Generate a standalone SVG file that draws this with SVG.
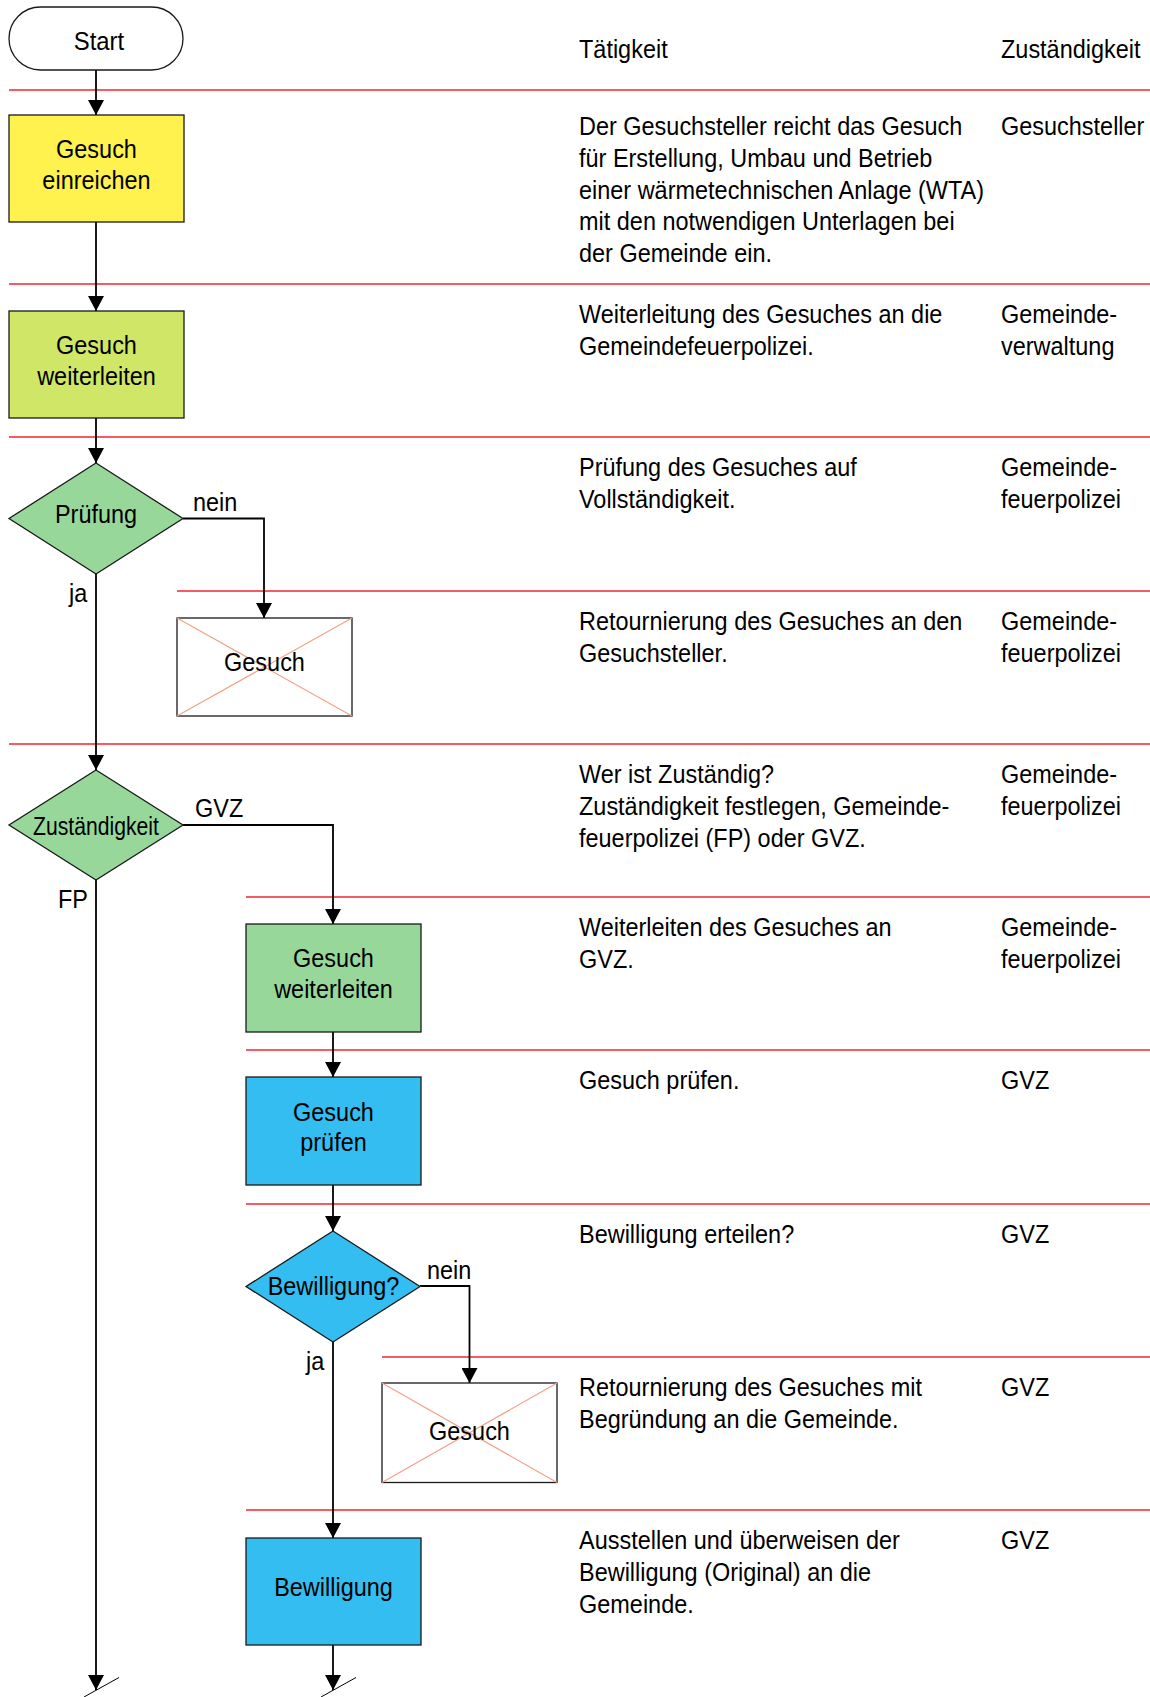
<svg xmlns="http://www.w3.org/2000/svg" width="1150" height="1697" viewBox="0 0 1150 1697">
  <defs>
    <style>
      .t { font-family: "Liberation Sans", Arial, sans-serif; font-size: 25.5px; fill: #000; }
      .c { text-anchor: middle; }
      .row { stroke: #f0262e; stroke-width: 1.6; fill: none; }
      .shape { stroke: #1a1a1a; stroke-width: 1.3; }
      .flow { stroke: #000; stroke-width: 1.8; fill: none; }
      .cross { stroke: #f5a085; stroke-width: 1.2; }
      .yellow { fill: #fff24f; }
      .lime { fill: #cfe667; }
      .green { fill: #97d89a; }
      .blue { fill: #34bdf1; }
      .paper { fill: #fff; }
    </style>
    <marker id="arrow" viewBox="0 0 15 16" refX="15" refY="8" markerWidth="15" markerHeight="16" markerUnits="userSpaceOnUse" orient="auto">
      <path d="M0,0 L15,8 L0,16 z" fill="#000"/>
    </marker>
  </defs>

  <rect width="1150" height="1697" fill="#fff"/>

  <!-- table rules separating the process steps -->
  <g id="rules">
    <line class="row" x1="9" y1="90" x2="1150" y2="90"/>
    <line class="row" x1="9" y1="284" x2="1150" y2="284"/>
    <line class="row" x1="9" y1="437" x2="1150" y2="437"/>
    <line class="row" x1="177" y1="591" x2="1150" y2="591"/>
    <line class="row" x1="9" y1="744" x2="1150" y2="744"/>
    <line class="row" x1="246" y1="897" x2="1150" y2="897"/>
    <line class="row" x1="246" y1="1050" x2="1150" y2="1050"/>
    <line class="row" x1="246" y1="1204" x2="1150" y2="1204"/>
    <line class="row" x1="382" y1="1357" x2="1150" y2="1357"/>
    <line class="row" x1="246" y1="1510" x2="1150" y2="1510"/>
  </g>

  <!-- flow connectors -->
  <g id="connectors">
    <path class="flow" d="M96,70 V115" marker-end="url(#arrow)"/>
    <path class="flow" d="M96,222 V311" marker-end="url(#arrow)"/>
    <path class="flow" d="M96,418 V463" marker-end="url(#arrow)"/>
    <path class="flow" d="M96,574 V770" marker-end="url(#arrow)"/>
    <path class="flow" d="M183,518.5 H264 V618" marker-end="url(#arrow)"/>
    <path class="flow" d="M96,880 V1690" marker-end="url(#arrow)"/>
    <path class="flow" d="M183,825 H333 V924" marker-end="url(#arrow)"/>
    <path class="flow" d="M333,1032 V1077" marker-end="url(#arrow)"/>
    <path class="flow" d="M333,1185 V1231" marker-end="url(#arrow)"/>
    <path class="flow" d="M420,1286 H469.5 V1383" marker-end="url(#arrow)"/>
    <path class="flow" d="M333,1342 V1538" marker-end="url(#arrow)"/>
    <path class="flow" d="M333,1645 V1690" marker-end="url(#arrow)"/>
    <!-- continuation marks -->
    <line x1="84" y1="1697" x2="119" y2="1677.5" stroke="#000" stroke-width="1"/>
    <line x1="321" y1="1697" x2="356" y2="1677.5" stroke="#000" stroke-width="1"/>
    <!-- branch labels -->
    <text class="t" transform="translate(193 511) scale(0.92 1)">nein</text>
    <text class="t" transform="translate(69 602) scale(0.92 1)">ja</text>
    <text class="t" transform="translate(195 817) scale(0.92 1)">GVZ</text>
    <text class="t" transform="translate(58 908) scale(0.92 1)">FP</text>
    <text class="t" transform="translate(427 1279) scale(0.92 1)">nein</text>
    <text class="t" transform="translate(306 1370) scale(0.92 1)">ja</text>
  </g>

  <!-- nodes -->
  <g id="start">
    <rect class="shape paper" x="9" y="7" width="174" height="63" rx="31.5"/>
    <text class="t c" transform="translate(99 50) scale(0.9 1)" style="font-size:26.5px">Start</text>
  </g>

  <g id="gesuch-einreichen">
    <rect class="shape yellow" x="9" y="115" width="175" height="107"/>
    <text class="t c" transform="translate(96.5 158) scale(0.92 1)"><tspan x="0" y="0">Gesuch</tspan><tspan x="0" y="31.5">einreichen</tspan></text>
  </g>

  <g id="gesuch-weiterleiten-1">
    <rect class="shape lime" x="9" y="311" width="175" height="107"/>
    <text class="t c" transform="translate(96.5 354) scale(0.92 1)"><tspan x="0" y="0">Gesuch</tspan><tspan x="0" y="31">weiterleiten</tspan></text>
  </g>

  <g id="pruefung">
    <polygon class="shape green" points="96,463 183,518.5 96,574 9,518.5"/>
    <text class="t c" transform="translate(96 523) scale(0.92 1)">Prüfung</text>
  </g>

  <g id="gesuch-retour-1">
    <rect class="shape paper" x="177" y="618" width="175" height="98"/>
    <line class="cross" x1="177" y1="618" x2="352" y2="716"/>
    <line class="cross" x1="352" y1="618" x2="177" y2="716"/>
    <text class="t c" transform="translate(264.5 671) scale(0.92 1)">Gesuch</text>
  </g>

  <g id="zustaendigkeit">
    <polygon class="shape green" points="96,770 183,825 96,880 9,825"/>
    <text class="t c" transform="translate(96 834.5) scale(0.83 1)">Zuständigkeit</text>
  </g>

  <g id="gesuch-weiterleiten-2">
    <rect class="shape green" x="246" y="924" width="175" height="108"/>
    <text class="t c" transform="translate(333.5 967) scale(0.92 1)"><tspan x="0" y="0">Gesuch</tspan><tspan x="0" y="31">weiterleiten</tspan></text>
  </g>

  <g id="gesuch-pruefen">
    <rect class="shape blue" x="246" y="1077" width="175" height="108"/>
    <text class="t c" transform="translate(333.5 1120.5) scale(0.92 1)"><tspan x="0" y="0">Gesuch</tspan><tspan x="0" y="31">prüfen</tspan></text>
  </g>

  <g id="bewilligung-frage">
    <polygon class="shape blue" points="333,1231 420,1286.5 333,1342 246,1286.5"/>
    <text class="t c" transform="translate(333.5 1295) scale(0.92 1)">Bewilligung?</text>
  </g>

  <g id="gesuch-retour-2">
    <rect class="shape paper" x="382" y="1383" width="175" height="99.5"/>
    <line class="cross" x1="382" y1="1383" x2="557" y2="1482.5"/>
    <line class="cross" x1="557" y1="1383" x2="382" y2="1482.5"/>
    <text class="t c" transform="translate(469.5 1440) scale(0.92 1)">Gesuch</text>
  </g>

  <g id="bewilligung">
    <rect class="shape blue" x="246" y="1538" width="175" height="107"/>
    <text class="t c" transform="translate(333.5 1596) scale(0.92 1)">Bewilligung</text>
  </g>

  <!-- activity and responsibility columns -->
  <g id="table-text">
    <text class="t" transform="translate(579 58) scale(0.92 1)">Tätigkeit</text>
    <text class="t" transform="translate(1001 58) scale(0.92 1)">Zuständigkeit</text>

    <text class="t" transform="translate(579 135) scale(0.92 1)"><tspan x="0" y="0">Der Gesuchsteller reicht das Gesuch</tspan><tspan x="0" y="31.8">für Erstellung, Umbau und Betrieb</tspan><tspan x="0" y="63.6">einer wärmetechnischen Anlage (WTA)</tspan><tspan x="0" y="95.4">mit den notwendigen Unterlagen bei</tspan><tspan x="0" y="127.2">der Gemeinde ein.</tspan></text>
    <text class="t" transform="translate(1001 135) scale(0.92 1)">Gesuchsteller</text>

    <text class="t" transform="translate(579 323) scale(0.92 1)"><tspan x="0" y="0">Weiterleitung des Gesuches an die</tspan><tspan x="0" y="31.8">Gemeindefeuerpolizei.</tspan></text>
    <text class="t" transform="translate(1001 323) scale(0.92 1)"><tspan x="0" y="0">Gemeinde-</tspan><tspan x="0" y="31.8">verwaltung</tspan></text>

    <text class="t" transform="translate(579 476) scale(0.92 1)"><tspan x="0" y="0">Prüfung des Gesuches auf</tspan><tspan x="0" y="31.8">Vollständigkeit.</tspan></text>
    <text class="t" transform="translate(1001 476) scale(0.92 1)"><tspan x="0" y="0">Gemeinde-</tspan><tspan x="0" y="31.8">feuerpolizei</tspan></text>

    <text class="t" transform="translate(579 630) scale(0.92 1)"><tspan x="0" y="0">Retournierung des Gesuches an den</tspan><tspan x="0" y="31.8">Gesuchsteller.</tspan></text>
    <text class="t" transform="translate(1001 630) scale(0.92 1)"><tspan x="0" y="0">Gemeinde-</tspan><tspan x="0" y="31.8">feuerpolizei</tspan></text>

    <text class="t" transform="translate(579 783) scale(0.92 1)"><tspan x="0" y="0">Wer ist Zuständig?</tspan><tspan x="0" y="31.8">Zuständigkeit festlegen, Gemeinde-</tspan><tspan x="0" y="63.6">feuerpolizei (FP) oder GVZ.</tspan></text>
    <text class="t" transform="translate(1001 783) scale(0.92 1)"><tspan x="0" y="0">Gemeinde-</tspan><tspan x="0" y="31.8">feuerpolizei</tspan></text>

    <text class="t" transform="translate(579 936) scale(0.92 1)"><tspan x="0" y="0">Weiterleiten des Gesuches an</tspan><tspan x="0" y="31.8">GVZ.</tspan></text>
    <text class="t" transform="translate(1001 936) scale(0.92 1)"><tspan x="0" y="0">Gemeinde-</tspan><tspan x="0" y="31.8">feuerpolizei</tspan></text>

    <text class="t" transform="translate(579 1089) scale(0.92 1)">Gesuch prüfen.</text>
    <text class="t" transform="translate(1001 1089) scale(0.92 1)">GVZ</text>

    <text class="t" transform="translate(579 1243) scale(0.92 1)">Bewilligung erteilen?</text>
    <text class="t" transform="translate(1001 1243) scale(0.92 1)">GVZ</text>

    <text class="t" transform="translate(579 1396) scale(0.92 1)"><tspan x="0" y="0">Retournierung des Gesuches mit</tspan><tspan x="0" y="31.8">Begründung an die Gemeinde.</tspan></text>
    <text class="t" transform="translate(1001 1396) scale(0.92 1)">GVZ</text>

    <text class="t" transform="translate(579 1549) scale(0.92 1)"><tspan x="0" y="0">Ausstellen und überweisen der</tspan><tspan x="0" y="31.8">Bewilligung (Original) an die</tspan><tspan x="0" y="63.6">Gemeinde.</tspan></text>
    <text class="t" transform="translate(1001 1549) scale(0.92 1)">GVZ</text>
  </g>
</svg>
